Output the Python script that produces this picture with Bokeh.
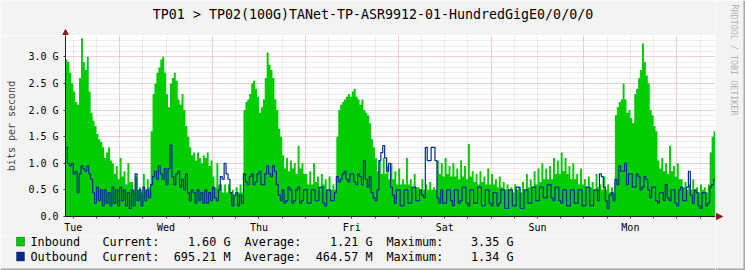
from bokeh.plotting import figure
from bokeh.layouts import row, column
from bokeh.models import (Range1d, FixedTicker, SingleIntervalTicker, Grid, Label,
                          Arrow, NormalHead, BoxAnnotation)
from bokeh.embed import file_html
from bokeh.resources import INLINE

W, H = 745, 270
FONT = "DejaVu Sans Mono"
BG = "#F3F3F3"

title_text = "TP01 > TP02(100G)TANet-TP-ASR9912-01-HundredGigE0/0/0/0"
y_label = "bits per second"
watermark = "RRDTOOL / TOBI OETIKER"
days = ["Tue", "Wed", "Thu", "Fri", "Sat", "Sun", "Mon"]
start_hour = 10    # first sample: Tue 10:00 (hours since Tue 00:00)
step_hours = 0.5   # 30-minute averages

# 30-minute averages, Gbit/s
inbound = [
    2.95, 2.9, 2.7, 2.5, 2.35, 2.15, 2.1, 2.6, 3.35, 2.9, 2.75, 3.0, 2.35, 1.95, 1.8, 1.7,
    1.55, 1.45, 1.4, 1.3, 1.1, 1.2, 1.3, 1.05, 1.0, 0.8, 0.95, 0.7, 1.1, 0.75, 0.85, 0.6,
    1.0, 0.65, 0.65, 0.5, 0.75, 0.5, 0.55, 0.45, 0.8, 0.5, 0.7, 0.55, 1.6, 2.3, 2.5, 2.7,
    2.8, 2.95, 3.0, 2.7, 2.3, 2.05, 2.5, 2.6, 2.7, 2.55, 2.2, 2.1, 2.3, 2.0, 1.7, 1.5,
    1.3, 1.15, 1.2, 1.05, 1.2, 1.1, 1.0, 1.15, 1.1, 1.2, 0.95, 1.05, 0.75, 0.55, 1.0, 0.6,
    0.6, 0.45, 0.6, 0.45, 0.6, 0.45, 0.5, 0.4, 0.55, 0.45, 0.6, 0.45, 2.0, 2.15, 2.2, 2.3,
    2.5, 2.55, 2.4, 2.25, 1.95, 2.05, 2.2, 2.6, 3.08, 2.85, 2.75, 2.6, 2.2, 2.0, 1.65, 1.5,
    1.15, 0.9, 1.1, 0.85, 1.05, 0.9, 1.0, 0.8, 1.33, 0.9, 1.0, 0.8, 0.8, 0.6, 0.85, 0.6,
    1.0, 0.65, 0.75, 0.55, 0.8, 0.6, 0.7, 0.5, 0.75, 0.5, 0.6, 0.5, 1.5, 2.0, 2.1, 2.15,
    2.2, 2.25, 2.3, 2.25, 2.35, 2.4, 2.25, 2.2, 2.1, 2.2, 2.0, 1.95, 1.9, 1.75, 1.45, 1.3,
    1.1, 0.85, 1.05, 0.8, 1.1, 0.8, 0.95, 0.7, 1.0, 0.7, 0.85, 0.6, 0.9, 0.6, 0.7, 0.6,
    1.1, 0.6, 0.7, 0.55, 0.8, 0.55, 0.55, 0.5, 0.7, 0.5, 0.6, 0.5, 0.65, 0.5, 0.55, 0.5,
    1.05, 0.8, 1.0, 0.75, 1.1, 0.8, 0.95, 0.75, 1.0, 0.75, 0.9, 0.7, 1.05, 0.75, 0.95, 0.7,
    1.36, 0.75, 0.85, 0.65, 0.8, 0.6, 0.85, 0.65, 0.75, 0.6, 0.9, 0.6, 0.8, 0.6, 0.7, 0.55,
    0.75, 0.55, 0.65, 0.5, 0.6, 0.5, 0.55, 0.45, 0.6, 0.5, 0.55, 0.45, 0.65, 0.5, 0.8, 0.55,
    0.7, 0.55, 0.85, 0.6, 0.9, 0.65, 1.0, 0.7, 0.9, 0.7, 0.95, 0.7, 1.1, 0.8, 1.05, 0.8,
    1.2, 0.85, 1.1, 0.8, 0.95, 0.7, 1.0, 0.7, 0.8, 0.6, 0.9, 0.6, 0.7, 0.55, 0.75, 0.55,
    0.65, 0.5, 0.8, 0.55, 0.6, 0.5, 0.75, 0.5, 0.6, 0.45, 0.55, 0.45, 1.9, 2.05, 2.15, 2.2,
    2.5, 2.2, 1.95, 2.0, 1.85, 1.75, 2.3, 2.4, 2.6, 2.75, 3.25, 2.9, 2.65, 2.5, 2.0, 1.9,
    1.7, 1.6, 1.05, 0.9, 1.1, 0.85, 1.0, 0.8, 1.33, 0.85, 0.95, 0.75, 1.0, 0.7, 0.7, 0.55,
    0.65, 0.5, 0.6, 0.5, 0.7, 0.5, 0.55, 0.45, 0.6, 0.5, 0.55, 0.45, 0.6, 1.2, 1.5, 1.6,
]
outbound = [
    1.3, 1.0, 0.95, 1.0, 0.8, 0.85, 0.45, 0.8, 0.95, 0.9, 0.85, 0.95, 0.8, 0.7, 0.45, 0.25,
    0.55, 0.3, 0.5, 0.2, 0.5, 0.25, 0.45, 0.2, 0.55, 0.25, 0.5, 0.2, 0.55, 0.3, 0.5, 0.2,
    0.45, 0.15, 0.5, 0.2, 0.8, 0.3, 0.5, 0.2, 0.55, 0.3, 0.5, 0.35, 0.6, 0.75, 0.85, 0.7,
    0.95, 0.8, 0.7, 0.9, 0.6, 0.9, 1.34, 0.75, 0.6, 0.8, 0.85, 0.55, 0.7, 0.5, 0.8, 0.45,
    0.3, 0.5, 0.45, 0.25, 0.5, 0.3, 0.45, 0.25, 0.5, 0.25, 0.45, 0.3, 0.55, 0.35, 0.3, 0.5,
    0.75, 0.7, 1.0, 0.8, 0.7, 0.45, 0.2, 0.4, 0.45, 0.2, 0.4, 0.25, 0.8, 0.65, 0.6, 0.75,
    0.8, 0.6, 0.65, 0.8, 0.85, 0.6, 0.6, 0.8, 0.95, 0.8, 0.75, 0.95, 0.85, 0.6, 0.4, 0.3,
    0.5, 0.25, 0.3, 0.55, 0.5, 0.25, 0.3, 0.5, 0.55, 0.25, 0.3, 0.5, 0.5, 0.25, 0.25, 0.5,
    0.5, 0.3, 0.3, 0.55, 0.55, 0.25, 0.2, 0.5, 0.5, 0.3, 0.3, 0.45, 0.75, 0.65, 0.7, 0.8,
    0.85, 0.7, 0.65, 0.8, 0.8, 0.65, 0.6, 0.8, 0.75, 0.6, 1.05, 0.7, 0.55, 0.75, 0.45, 0.35,
    0.3, 0.5, 1.05, 1.2, 1.33, 1.1, 0.85, 1.0, 0.55, 0.4, 0.25, 0.5, 0.5, 0.2, 0.2, 0.5,
    0.5, 0.25, 0.25, 0.55, 0.55, 0.3, 0.3, 0.5, 0.4, 0.35, 1.3, 1.05, 1.05, 1.3, 1.3, 1.05,
    0.35, 0.25, 0.5, 0.25, 0.25, 0.5, 0.5, 0.3, 0.2, 0.5, 0.5, 0.25, 0.3, 0.55, 0.55, 0.25,
    0.2, 0.5, 0.5, 0.25, 0.25, 0.55, 0.55, 0.2, 0.2, 0.5, 0.5, 0.25, 0.2, 0.45, 0.45, 0.2,
    0.25, 0.5, 0.5, 0.15, 0.15, 0.5, 0.5, 0.2, 0.2, 0.55, 0.55, 0.15, 0.15, 0.5, 0.5, 0.25,
    0.25, 0.55, 0.55, 0.3, 0.3, 0.55, 0.55, 0.35, 0.35, 0.6, 0.6, 0.35, 0.3, 0.55, 0.55, 0.3,
    0.25, 0.5, 0.5, 0.2, 0.2, 0.5, 0.5, 0.25, 0.25, 0.5, 0.5, 0.2, 0.2, 0.55, 0.55, 0.2,
    0.2, 0.5, 0.5, 0.3, 0.8, 0.75, 0.55, 0.3, 0.15, 0.4, 0.45, 0.3, 0.7, 0.6, 0.95, 0.85,
    0.85, 1.0, 0.6, 0.8, 0.8, 0.55, 0.55, 0.8, 0.75, 0.5, 0.55, 0.75, 0.7, 0.5, 0.35, 0.55,
    0.55, 0.3, 0.25, 0.45, 0.45, 0.3, 0.6, 0.35, 0.3, 0.5, 0.5, 0.25, 0.2, 0.5, 0.55, 0.3,
    0.3, 0.55, 0.85, 0.4, 0.25, 0.5, 0.45, 0.2, 0.15, 0.45, 0.45, 0.2, 0.25, 0.55, 0.6, 0.7,
]

ytick_vals = [0.0, 0.5, 1.0, 1.5, 2.0, 2.5, 3.0]
ytick_labels = ["0.0", "0.5 G", "1.0 G", "1.5 G", "2.0 G", "2.5 G", "3.0 G"]
y_max = 3.4

legend_names = ["Inbound", "Outbound"]
legend_current = ["1.60 G", "695.21 M"]
legend_average = ["1.21 G", "464.57 M"]
legend_maximum = ["3.35 G", "1.34 G"]

IN_COLOR = "#00CC00"
OUT_COLOR = "#002A97"
ARROW_COL = "#8B1A1A"
AXIS_COL = "#202020"

# page geometry (canvas pixels): graph frame and side strips
FL, FR, FT, FB = 65, 715, 35, 216
LEG_H = H - FB - 20          # legend strip under the main figure
RIGHT_W = W - FR             # watermark strip

n = len(inbound)
xs = [start_hour + i * step_hours for i in range(n + 1)]
in_ext = inbound + inbound[-1:]
out_ext = outbound + outbound[-1:]
x_end = start_hour + n * step_hours


def strip(width, height):
    f = figure(width=width, height=height, output_backend="svg", toolbar_location=None,
               x_axis_type=None, y_axis_type=None,
               x_range=Range1d(0, 1), y_range=Range1d(0, 1),
               min_border=0, min_border_left=0, min_border_right=0,
               min_border_top=0, min_border_bottom=0, frame_align=False)
    f.title = None
    f.grid.visible = False
    f.outline_line_color = None
    f.background_fill_color = BG
    f.border_fill_color = BG
    return f


# ---------------- main graph ----------------
p = figure(width=FR, height=FB - FT + 20, output_backend="svg", toolbar_location=None,
           x_range=Range1d(start_hour, x_end), y_range=Range1d(0, y_max),
           min_border_left=FL, min_border_right=0, min_border_top=0, min_border_bottom=20,
           frame_align=False)
p.title = None
p.background_fill_color = "#FFFFFF"
p.border_fill_color = BG
p.outline_line_color = None
p.grid.visible = False

grid_specs = [
    (1, SingleIntervalTicker(interval=0.1), "#DADADA"),
    (0, SingleIntervalTicker(interval=6), "#DADADA"),
    (1, SingleIntervalTicker(interval=0.5), "#F3B0B0"),
    (0, SingleIntervalTicker(interval=24), "#F3B0B0"),
]
for dim, tk, col in grid_specs:
    p.add_layout(Grid(dimension=dim, ticker=tk, grid_line_color=col,
                      grid_line_dash="1 1", grid_line_width=1))

p.varea_step(x=xs, y1=[0] * (n + 1), y2=in_ext, step_mode="after", fill_color=IN_COLOR)
p.step(x=xs, y=out_ext, mode="after", line_color=OUT_COLOR, line_width=1.2)

noon_ticks = [12 + 24 * k for k in range(len(days))]
six_ticks = list(range(12, int(x_end) + 1, 6))
xa = p.xaxis[0]
xa.ticker = FixedTicker(ticks=noon_ticks, minor_ticks=six_ticks)
xa.major_label_overrides = {t: d for t, d in zip(noon_ticks, days)}
xa.major_tick_line_color = None
xa.major_tick_out = 0
xa.major_tick_in = 0
xa.minor_tick_in = 0
xa.minor_tick_out = 2
xa.minor_tick_line_color = "#404040"
xa.axis_line_color = AXIS_COL
xa.major_label_standoff = 3
xa.major_label_text_font = FONT
xa.major_label_text_font_size = "10px"
xa.major_label_text_color = "#000000"

ya = p.yaxis[0]
ya.ticker = FixedTicker(ticks=ytick_vals)
ya.major_label_overrides = {v: s for v, s in zip(ytick_vals, ytick_labels)}
ya.major_tick_in = 0
ya.major_tick_out = 2
ya.major_tick_line_color = "#404040"
ya.minor_tick_line_color = None
ya.axis_line_color = AXIS_COL
ya.major_label_standoff = 5
ya.major_label_text_font = FONT
ya.major_label_text_font_size = "10px"
ya.major_label_text_color = "#000000"
ya.axis_label = y_label
ya.axis_label_text_font = FONT
ya.axis_label_text_font_size = "10px"
ya.axis_label_text_font_style = "normal"
ya.axis_label_standoff = 8


def add_label(fig, x, y, text, size, align="left", color="#000000", angle=0.0):
    fig.add_layout(Label(x=x, y=y, x_units="screen", y_units="screen", text=text,
                         text_font=FONT, text_font_size=size, text_align=align,
                         text_baseline="middle", text_color=color, angle=angle))


# ---------------- title strip ----------------
top = strip(FR, FT)
add_label(top, W / 2, FT - 14, title_text, "13.3px", align="center")
top.add_layout(Arrow(end=NormalHead(size=6, fill_color=ARROW_COL, line_color=ARROW_COL),
                     x_start=FL, y_start=0, x_end=FL, y_end=6,
                     start_units="screen", end_units="screen", line_color=AXIS_COL))

# ---------------- legend strip ----------------
leg = strip(FR, LEG_H)
row_y = [241, 256]
swatch = [IN_COLOR, OUT_COLOR]
for i in range(2):
    yy = H - row_y[i]
    leg.add_layout(BoxAnnotation(left=16, right=24, top=yy + 4.5, bottom=yy - 4.5,
                                 left_units="screen", right_units="screen",
                                 top_units="screen", bottom_units="screen",
                                 fill_color=swatch[i], fill_alpha=1.0,
                                 line_color="#000000", line_width=1))
    add_label(leg, 30, yy, legend_names[i], "11.8px")
    add_label(leg, 102, yy, "Current:", "11.8px")
    add_label(leg, 230, yy, legend_current[i], "11.8px", align="right")
    add_label(leg, 244, yy, "Average:", "11.8px")
    add_label(leg, 372, yy, legend_average[i], "11.8px", align="right")
    add_label(leg, 386, yy, "Maximum:", "11.8px")
    add_label(leg, 513, yy, legend_maximum[i], "11.8px", align="right")
leg.add_layout(BoxAnnotation(left=0, right=FR, top=2, bottom=0,
                             left_units="screen", right_units="screen",
                             top_units="screen", bottom_units="screen",
                             fill_color="#A8A8A8", fill_alpha=1.0, line_color=None))

# ---------------- right strip (watermark, x arrow) ----------------
side = strip(RIGHT_W, H)
add_label(side, 734 - FR, H - 4, watermark, "8.4px", align="left", color="#B4B4B4",
          angle=-1.5708)
side.add_layout(Arrow(end=NormalHead(size=6, fill_color=ARROW_COL, line_color=ARROW_COL),
                      x_start=0, y_start=H - FB, x_end=7, y_end=H - FB,
                      start_units="screen", end_units="screen", line_color=AXIS_COL))
side.add_layout(BoxAnnotation(left=RIGHT_W - 2, right=RIGHT_W, top=H, bottom=0,
                              left_units="screen", right_units="screen",
                              top_units="screen", bottom_units="screen",
                              fill_color="#A8A8A8", fill_alpha=1.0, line_color=None))
side.add_layout(BoxAnnotation(left=0, right=RIGHT_W, top=2, bottom=0,
                              left_units="screen", right_units="screen",
                              top_units="screen", bottom_units="screen",
                              fill_color="#A8A8A8", fill_alpha=1.0, line_color=None))

layout = row(column(top, p, leg, spacing=0), side, spacing=0)

open("out.html", "w").write(file_html(layout, INLINE))
